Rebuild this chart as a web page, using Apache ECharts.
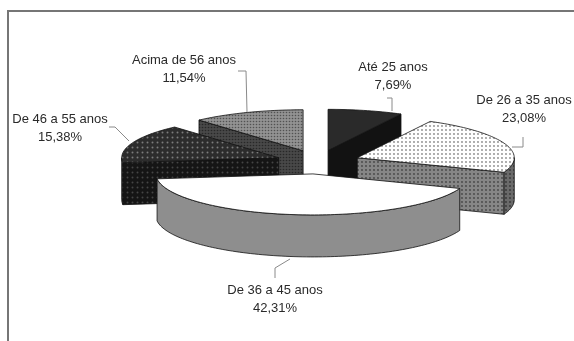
<!DOCTYPE html>
<html>
<head>
<meta charset="utf-8">
<script src="https://cdn.jsdelivr.net/npm/echarts@6/dist/echarts.min.js"></script>
<style>
  html, body { margin: 0; padding: 0; background: #ffffff; }
  #chart { width: 574px; height: 341px; }
</style>
</head>
<body>
<div id="chart"></div>
<script>
// Faixa etária dos respondentes
const categories = ['Até 25 anos', 'De 26 a 35 anos', 'De 36 a 45 anos', 'De 46 a 55 anos', 'Acima de 56 anos'];
const shares = [7.69, 23.08, 42.31, 15.38, 11.54];

// 3D pie layout (pixels): centre, ellipse radii, wall depth, explode offset
const PIE = { cx: 318, cy: 162, rx: 157, ry: 41, depth: 42, ex: 42, ey: 12 };

// label anchors (centre x, centre y of the two-line block) and leader polylines
const LABEL_POS = [[393, 76], [524, 109], [275, 299], [60, 128], [184, 69]];
const LEADERS = [
  [[387, 98], [392, 98], [392, 111]],
  [[523, 137], [523, 147], [512, 147]],
  [[275, 278], [275, 268], [290, 259]],
  [[109, 127], [115, 127], [129, 141]],
  [[238, 71], [246, 71], [247, 112]]
];

const DEG = Math.PI / 180;

// small dotted tiles used as fills
function dots(bg, dot, step, r) {
  const c = document.createElement('canvas');
  c.width = c.height = step;
  const g = c.getContext('2d');
  g.fillStyle = bg;
  g.fillRect(0, 0, step, step);
  g.fillStyle = dot;
  g.beginPath();
  g.arc(step / 2, step / 2, r, 0, Math.PI * 2);
  g.fill();
  return { image: c, repeat: 'repeat' };
}

const FACES = [
  { top: '#2a2a2a', side: '#121212', wall: '#121212' },
  { top: dots('#ffffff', '#8a8a8a', 4, 0.9), side: dots('#868686', '#464646', 4, 0.9), wall: dots('#6a6a6a', '#363636', 4, 0.9) },
  { top: '#ffffff', side: '#8e8e8e', wall: '#8e8e8e' },
  { top: dots('#2c2c2c', '#7c7c7c', 5, 1), side: dots('#151515', '#454545', 5, 1), wall: dots('#1c1c1c', '#505050', 5, 1) },
  { top: dots('#929292', '#525252', 3, 0.8), side: dots('#484848', '#282828', 3, 0.8), wall: dots('#565656', '#303030', 3, 0.8) }
];

const total = shares.reduce((a, b) => a + b, 0);

// clockwise angles from 12 o'clock for each slice
function sliceAngles(i) {
  let start = 0;
  for (let k = 0; k < i; k++) start += shares[k];
  return [start / total * 360, (start + shares[i]) / total * 360];
}

function sliceOrigin(i) {
  const [t1, t2] = sliceAngles(i);
  const m = (t1 + t2) / 2 * DEG;
  return [PIE.cx + PIE.ex * Math.sin(m), PIE.cy - PIE.ey * Math.cos(m)];
}

// back-to-front drawing rank
const order = shares.map((_, i) => i).sort((a, b) => sliceOrigin(a)[1] - sliceOrigin(b)[1]);
const rank = [];
order.forEach((idx, r) => { rank[idx] = r; });

function renderItem(params, api) {
  const i = params.dataIndex;
  const [t1, t2] = sliceAngles(i);
  const [ox, oy] = sliceOrigin(i);
  const H = PIE.depth;
  const pt = (t, dy) => [ox + PIE.rx * Math.sin(t * DEG), oy - PIE.ry * Math.cos(t * DEG) + dy];
  const arc = (a, b, dy) => {
    const n = Math.max(2, Math.ceil(Math.abs(b - a) / 1.5));
    const out = [];
    for (let k = 0; k <= n; k++) out.push(pt(a + (b - a) * k / n, dy));
    return out;
  };
  const face = FACES[i];
  const edge = { stroke: '#111111', lineWidth: 0.8, lineJoin: 'round' };
  const base = rank[i] * 10;
  const children = [];

  const radial = (t) => ({
    type: 'polygon',
    z2: base + 1,
    shape: { points: [[ox, oy], pt(t, 0), pt(t, H), [ox, oy + H]] },
    style: Object.assign({ fill: face.side }, edge)
  });
  if (Math.sin(t1 * DEG) < -1e-6) children.push(radial(t1));
  if (Math.sin(t2 * DEG) > 1e-6) children.push(radial(t2));

  const w1 = Math.max(t1, 90), w2 = Math.min(t2, 270);
  if (w2 > w1) {
    children.push({
      type: 'polygon',
      z2: base + 2,
      shape: { points: arc(w1, w2, 0).concat(arc(w2, w1, H)) },
      style: Object.assign({ fill: face.wall }, edge)
    });
  }

  children.push({
    type: 'polygon',
    z2: base + 3,
    shape: { points: [[ox, oy]].concat(arc(t1, t2, 0)) },
    style: Object.assign({ fill: face.top }, edge)
  });

  children.push({
    type: 'polyline',
    z2: 900,
    shape: { points: LEADERS[i] },
    style: { stroke: '#8a8a8a', lineWidth: 1, fill: null }
  });

  const pct = api.value(1).toFixed(2).replace('.', ',') + '%';
  children.push({
    type: 'text',
    z2: 1000,
    style: {
      text: categories[i] + '\n' + pct,
      x: LABEL_POS[i][0],
      y: LABEL_POS[i][1],
      align: 'center',
      verticalAlign: 'middle',
      lineHeight: 18,
      font: '13px "Liberation Sans", Arial, sans-serif',
      fill: '#2a2a2a'
    }
  });

  return { type: 'group', children };
}

const chart = echarts.init(document.getElementById('chart'), null, { renderer: 'canvas' });
chart.setOption({
  animation: false,
  backgroundColor: '#ffffff',
  graphic: [{
    type: 'polyline',
    shape: { points: [[8, 341], [8, 11], [574, 11]] },
    style: { stroke: '#767676', lineWidth: 2, fill: null }
  }],
  series: [{
    type: 'custom',
    coordinateSystem: 'none',
    renderItem,
    data: shares.map((v, i) => ({ name: categories[i], value: [i, v] }))
  }]
});
</script>
</body>
</html>
